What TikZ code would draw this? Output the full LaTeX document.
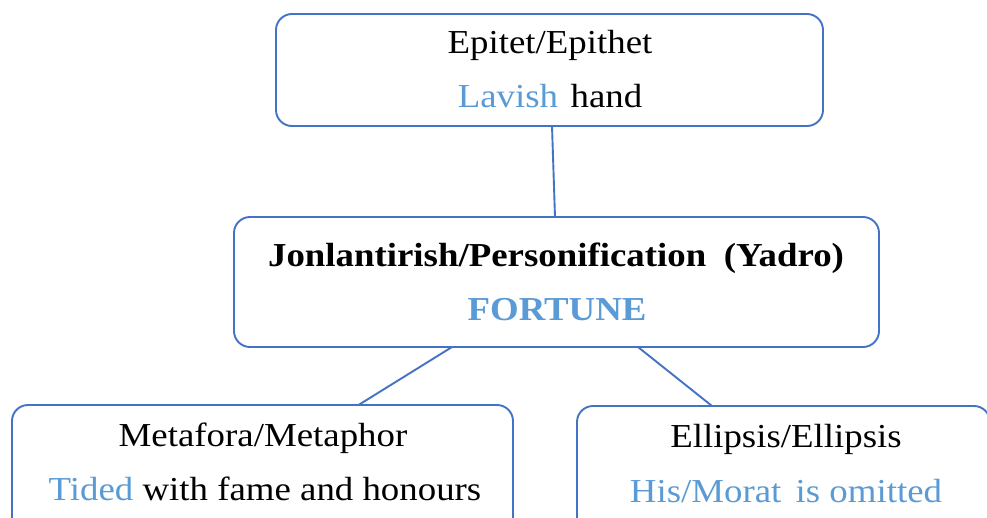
\documentclass[tikz,border=0pt]{standalone}
\usepackage{fontspec}
\setmainfont{Liberation Serif}[FakeStretch=1.1]
\definecolor{boxblue}{HTML}{4472C4}
\definecolor{txtblue}{HTML}{5B9BD5}
\begin{document}
\begin{tikzpicture}[x=1pt,y=-1pt,
  box/.style={draw=boxblue, line width=1.9pt, rounded corners=16pt, inner sep=0pt, outer sep=0pt, fill=white},
  conn/.style={draw=boxblue, line width=1.9pt},
  txt/.style={anchor=base, inner sep=0pt, font=\fontsize{33.5}{40}\selectfont},
  btxt/.style={txt, font=\fontsize{33.5}{40}\selectfont\bfseries}]
\useasboundingbox (0,0) rectangle (987,517);
\clip (0,0) rectangle (987,517);
\fill[white] (0,0) rectangle (987,517);
% boxes
\node[box, minimum width=547pt, minimum height=112pt] (top) at (549.5,70) {};
\node[box, minimum width=645pt, minimum height=130pt] (mid) at (556.5,282) {};
\node[box, minimum width=501pt, minimum height=135pt] (left) at (262.5,472.5) {};
\node[box, minimum width=413pt, minimum height=135pt] (right) at (783.5,473.5) {};
% connectors
\draw[conn] ([xshift=2.5pt]top.south) -- ([xshift=-1.5pt]mid.north);
\draw[conn] ([xshift=-104.5pt]mid.south) -- ([xshift=96pt]left.north);
\draw[conn] ([xshift=81.5pt]mid.south) -- ([xshift=-71.5pt]right.north);
% texts
\node[txt] (t1) at (550,53) {Epitet/Epithet};
\node[txt] (t2) at (550,107) {\textcolor{txtblue}{Lavish}\hspace{0.1em} hand};
\node[btxt] (m1) at (556,266) {Jonlantirish/Personification\hspace{0.25em} (Yadro)};
\node[btxt, text=txtblue] (m2) at (557,320) {FORTUNE};
\node[txt] (l1) at (263,446) {Metafora/Metaphor};
\node[txt] (l2) at (265,500) {\textcolor{txtblue}{Tided} with fame and honours};
\node[txt] (r1) at (786,447) {Ellipsis/Ellipsis};
\node[txt, text=txtblue] (r2) at (786,502) {His/Morat\hspace{0.15em} is omitted};
\end{tikzpicture}
\end{document}
